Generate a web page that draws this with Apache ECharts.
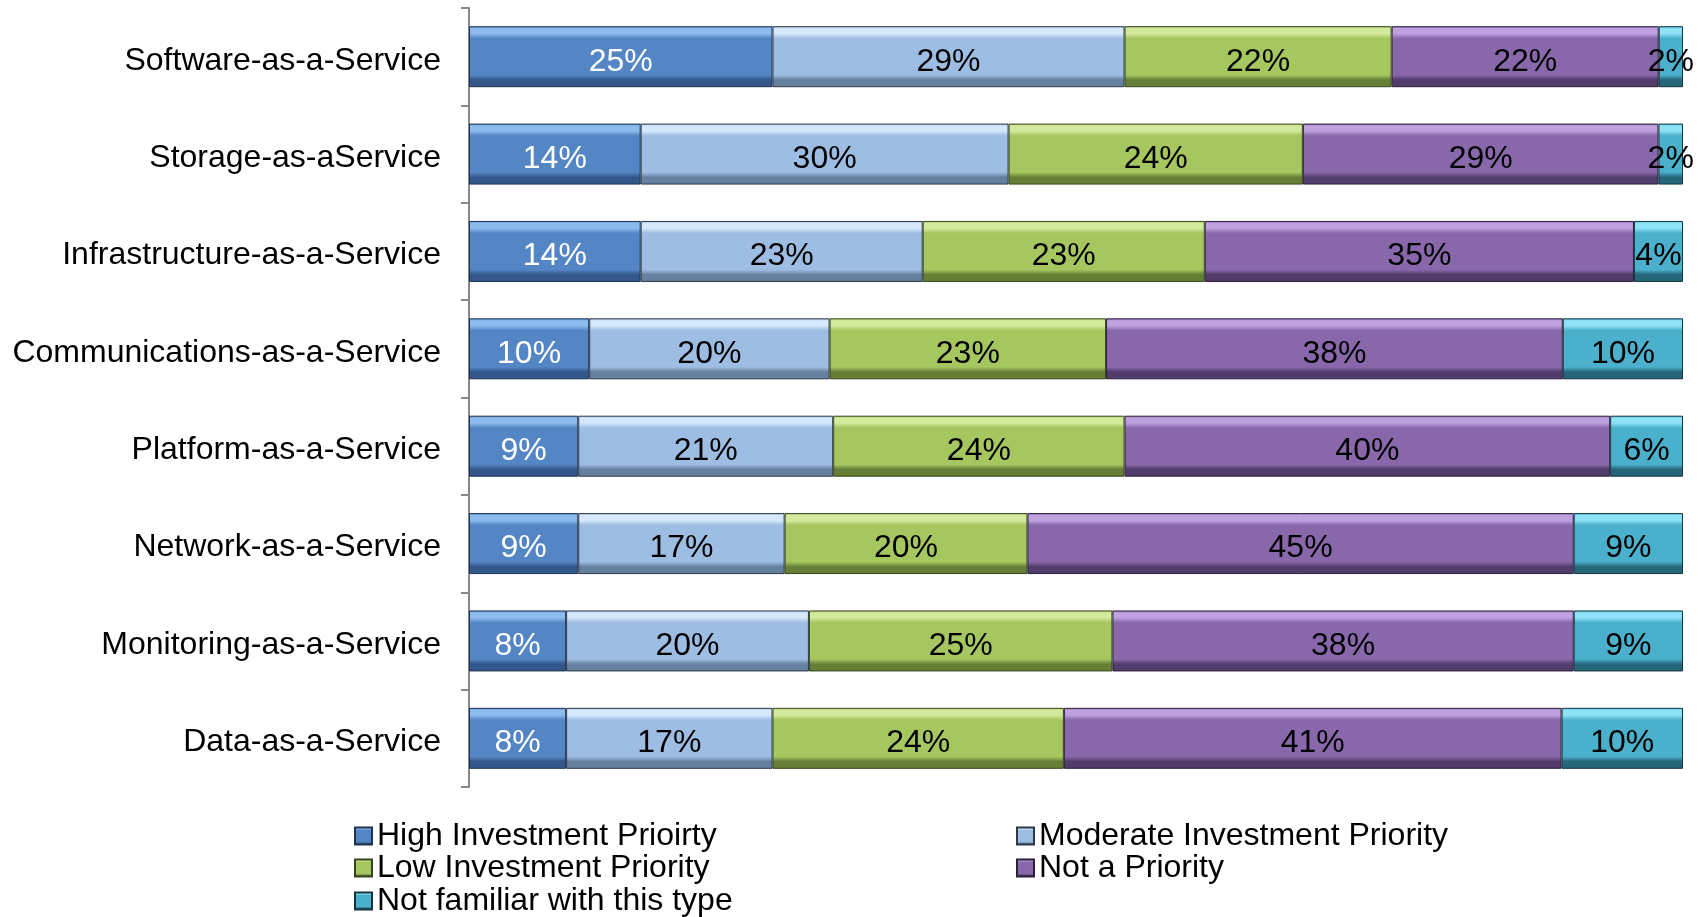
<!DOCTYPE html>
<html>
<head>
<meta charset="utf-8">
<script src="https://cdn.jsdelivr.net/npm/echarts@6/dist/echarts.min.js"></script>
<style>
html,body{margin:0;padding:0;background:#fff;}
#chart{width:1698px;height:917px;}
</style>
</head>
<body>
<div id="chart"></div>
<script>
const categories = [
  'Software-as-a-Service',
  'Storage-as-aService',
  'Infrastructure-as-a-Service',
  'Communications-as-a-Service',
  'Platform-as-a-Service',
  'Network-as-a-Service',
  'Monitoring-as-a-Service',
  'Data-as-a-Service'
];
const seriesNames = [
  'High Investment Prioirty',
  'Moderate Investment Priority',
  'Low Investment Priority',
  'Not a Priority',
  'Not familiar with this type'
];
const highInvestment     = [25, 14, 14, 10, 9, 9, 8, 8];
const moderateInvestment = [29, 30, 23, 20, 21, 17, 20, 17];
const lowInvestment      = [22, 24, 23, 23, 24, 20, 25, 24];
const notPriority        = [22, 29, 35, 38, 40, 45, 38, 41];
const notFamiliar        = [2, 2, 4, 10, 6, 9, 9, 10];

const allValues = [highInvestment, moderateInvestment, lowInvestment, notPriority, notFamiliar];
const rowTotals = categories.map((c, i) => allValues.reduce((s, arr) => s + arr[i], 0));

const palettes = [
  {top:'#8DBBEE', face:'#5486C5', bottom:'#33578A', edge:'#1E3350', label:'#ffffff'},
  {top:'#D6E8FB', face:'#9EBDE3', bottom:'#66809F', edge:'#2C3848', label:'#000000'},
  {top:'#D3EA9C', face:'#A6C660', bottom:'#667F37', edge:'#36451B', label:'#000000'},
  {top:'#BEA2E0', face:'#8867AB', bottom:'#523C6B', edge:'#2B1F3A', label:'#000000'},
  {top:'#8EE2F5', face:'#4BB0CC', bottom:'#256679', edge:'#123640', label:'#000000'}
];

function bevel(p) {
  return new echarts.graphic.LinearGradient(0, 0, 0, 1, [
    {offset: 0, color: p.face},
    {offset: 0.04, color: p.top},
    {offset: 0.12, color: p.top},
    {offset: 0.20, color: p.face},
    {offset: 0.80, color: p.face},
    {offset: 0.88, color: p.bottom},
    {offset: 1, color: p.bottom}
  ]);
}

const series = allValues.map((arr, si) => ({
  name: seriesNames[si],
  type: 'bar',
  stack: 'total',
  barWidth: 61,
  data: arr.map((v, i) => v / rowTotals[i] * 100),
  itemStyle: {
    color: bevel(palettes[si]),
    borderColor: palettes[si].edge,
    borderWidth: 1
  },
  label: {
    show: true,
    position: 'inside',
    offset: [0, 5],
    color: palettes[si].label,
    fontSize: 32,
    fontFamily: 'Liberation Sans, Arial, sans-serif',
    formatter: (params) => allValues[params.seriesIndex][params.dataIndex] + '%'
  }
}));

const legendText = {fontSize: 32, color: '#000', fontFamily: 'Liberation Sans, Arial, sans-serif'};
const legendSlots = [
  {name: seriesNames[0], left: 354, top: 820},
  {name: seriesNames[1], left: 1016, top: 820},
  {name: seriesNames[2], left: 354, top: 852},
  {name: seriesNames[3], left: 1016, top: 852},
  {name: seriesNames[4], left: 354, top: 885}
];
const legends = legendSlots.map(s => ({
  orient: 'horizontal',
  left: s.left,
  top: s.top,
  padding: 0,
  itemWidth: 17,
  itemHeight: 17,
  icon: 'rect',
  textStyle: legendText,
  data: [s.name]
}));

const chart = echarts.init(document.getElementById('chart'));
chart.setOption({
  animation: false,
  backgroundColor: '#ffffff',
  grid: {left: 469, right: 15, top: 8, bottom: 130},
  xAxis: {
    type: 'value',
    min: 0,
    max: 100,
    show: false
  },
  yAxis: {
    type: 'category',
    data: categories,
    inverse: true,
    axisLine: {show: true, lineStyle: {color: '#888888', width: 2}},
    axisTick: {show: true, length: 8, lineStyle: {color: '#888888', width: 2}},
    axisLabel: {
      margin: 28,
      formatter: (v) => '{c|' + v + '}',
      rich: {
        c: {
          fontSize: 32,
          color: '#000',
          padding: [8, 0, 0, 0],
          fontFamily: 'Liberation Sans, Arial, sans-serif'
        }
      }
    }
  },
  legend: legends,
  series: series
});
</script>
</body>
</html>
